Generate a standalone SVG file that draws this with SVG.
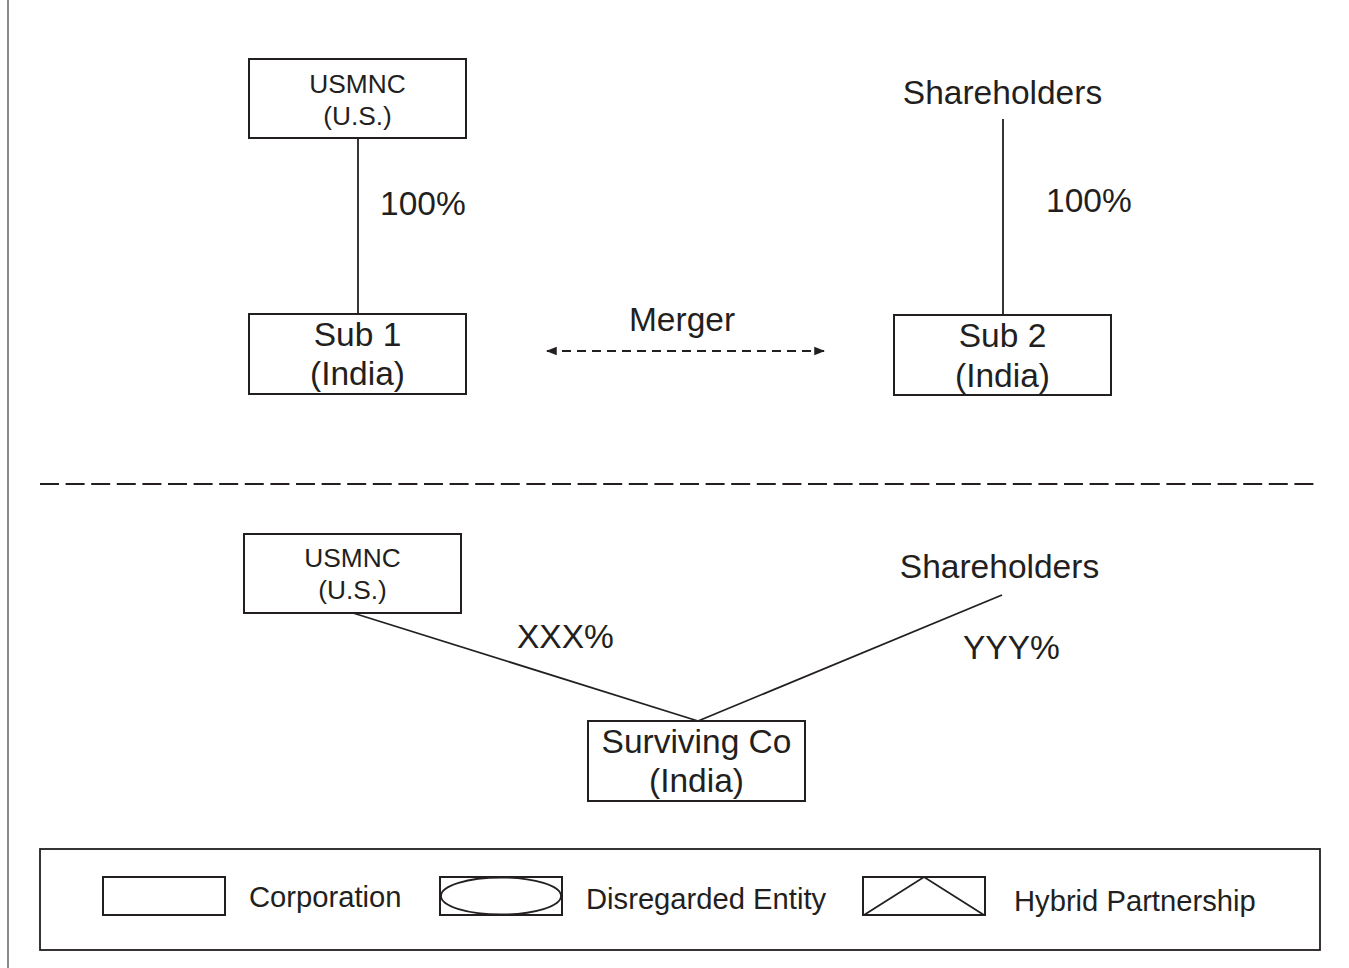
<svg xmlns="http://www.w3.org/2000/svg" width="1349" height="968" viewBox="0 0 1349 968">
  <style>
    text { font-family: "Liberation Sans", Arial, sans-serif; fill: #231f20; }
    .box { fill: #fff; stroke: #231f20; stroke-width: 2; }
    .edge { stroke: #231f20; stroke-width: 1.8; fill: none; }
    .big { font-size: 33.500px; }
    .mid { font-size: 26.300px; }
    .leg { font-size: 29.200px; }
  </style>
  <defs>
    <marker id="arr" viewBox="0 0 10 10" refX="9" refY="5" markerWidth="6" markerHeight="6" orient="auto-start-reverse">
      <path d="M0,1 L10,5 L0,9 z" fill="#231f20"/>
    </marker>
  </defs>

  <rect width="1349" height="968" fill="#fff"/>
  <!-- page margin rule -->
  <line x1="8" y1="0" x2="8" y2="968" stroke="#8a8a8a" stroke-width="2"/>

  <!-- connectors -->
  <g id="connectors">
    <line class="edge" x1="358" y1="138" x2="358" y2="314"/>
    <line class="edge" x1="1003" y1="119" x2="1003" y2="315"/>
    <line class="edge" x1="547" y1="351" x2="824" y2="351" stroke-dasharray="9,6" marker-start="url(#arr)" marker-end="url(#arr)"/>
    <line class="edge" x1="353" y1="613" x2="698" y2="721"/>
    <line class="edge" x1="698" y1="721" x2="1002" y2="595"/>
    <text class="big" x="380" y="215">100%</text>
    <text class="big" x="1046" y="212">100%</text>
    <text class="big" x="682" y="331" text-anchor="middle">Merger</text>
    <text class="big" x="517" y="648">XXX%</text>
    <text class="big" x="963" y="659">YYY%</text>
  </g>

  <!-- before / after separator -->
  <line x1="40" y1="484" x2="1320" y2="484" stroke="#231f20" stroke-width="2.2" stroke-dasharray="19,6.6"/>

  <g id="usmnc-top">
    <rect class="box" x="249" y="59" width="217" height="79"/>
    <text class="mid" x="357.500" y="93" text-anchor="middle">USMNC</text>
    <text class="mid" x="357.500" y="125" text-anchor="middle">(U.S.)</text>
  </g>

  <g id="sub1">
    <rect class="box" x="249" y="314" width="217" height="80"/>
    <text class="big" x="357.500" y="346" text-anchor="middle">Sub 1</text>
    <text class="big" x="357.500" y="385" text-anchor="middle">(India)</text>
  </g>

  <g id="shareholders-top">
    <text class="big" x="1002.500" y="104" text-anchor="middle">Shareholders</text>
  </g>

  <g id="sub2">
    <rect class="box" x="894" y="315" width="217" height="80"/>
    <text class="big" x="1002.500" y="347" text-anchor="middle">Sub 2</text>
    <text class="big" x="1002.500" y="387" text-anchor="middle">(India)</text>
  </g>

  <g id="usmnc-bottom">
    <rect class="box" x="244" y="534" width="217" height="79"/>
    <text class="mid" x="352.500" y="567" text-anchor="middle">USMNC</text>
    <text class="mid" x="352.500" y="599" text-anchor="middle">(U.S.)</text>
  </g>

  <g id="shareholders-bottom">
    <text class="big" x="999.500" y="578" text-anchor="middle">Shareholders</text>
  </g>

  <g id="surviving-co">
    <rect class="box" x="588" y="721" width="217" height="80"/>
    <text class="big" x="696.500" y="753" text-anchor="middle">Surviving Co</text>
    <text class="big" x="696.500" y="792" text-anchor="middle">(India)</text>
  </g>

  <!-- legend -->
  <g id="legend">
    <rect x="40" y="849" width="1280" height="101" fill="none" stroke="#231f20" stroke-width="1.8"/>
    <rect class="box" x="103" y="877" width="122" height="38"/>
    <text class="leg" x="249" y="907">Corporation</text>
    <rect class="box" x="440" y="877" width="122" height="38"/>
    <ellipse cx="501" cy="896" rx="60" ry="18.500" fill="none" stroke="#231f20" stroke-width="1.8"/>
    <text class="leg" x="586" y="909">Disregarded Entity</text>
    <rect class="box" x="863" y="877" width="122" height="38"/>
    <polyline points="864,915 924,877 984,915" fill="none" stroke="#231f20" stroke-width="1.8"/>
    <text class="leg" x="1014" y="911">Hybrid Partnership</text>
  </g>
</svg>
